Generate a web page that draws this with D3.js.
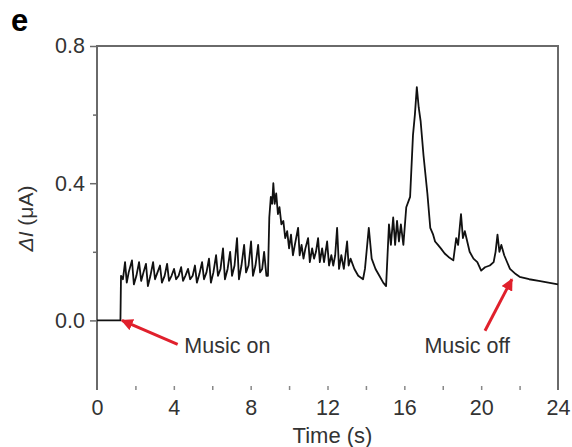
<!DOCTYPE html>
<html>
<head>
<meta charset="utf-8">
<script src="https://cdn.jsdelivr.net/npm/d3@7"></script>
<style>
  html, body { margin: 0; padding: 0; background: #fff; }
  svg { display: block; font-family: "Liberation Sans", Arial, sans-serif; }
</style>
</head>
<body>
<svg id="chart" width="572" height="447"></svg>
<script>
// ---- data ----
const timeS = [0,1.22,1.25,1.35,1.46,1.55,1.65,1.82,1.92,2.05,2.19,2.3,2.42,2.55,2.65,2.78,2.92,3.02,3.15,3.28,3.38,3.52,3.65,3.75,3.88,4.01,4.12,4.25,4.38,4.48,4.6,4.74,4.85,4.98,5.10,5.2,5.33,5.47,5.57,5.7,5.83,5.93,6.06,6.20,6.3,6.43,6.56,6.66,6.8,6.93,7.03,7.16,7.29,7.39,7.52,7.66,7.76,7.89,8.02,8.12,8.25,8.39,8.49,8.6,8.70,8.82,8.9,8.97,9.05,9.12,9.18,9.25,9.33,9.42,9.5,9.6,9.7,9.8,9.9,10.0,10.1,10.2,10.3,10.47,10.55,10.65,10.75,10.85,10.99,11.08,11.2,11.3,11.4,11.51,11.6,11.72,11.82,11.98,12.08,12.2,12.3,12.4,12.5,12.6,12.72,12.85,13.02,13.1,13.2,13.4,13.6,13.85,13.95,14.15,14.3,14.5,14.7,14.9,15.05,15.2,15.3,15.42,15.52,15.62,15.72,15.82,15.95,16.1,16.3,16.45,16.55,16.65,16.75,16.85,17.0,17.2,17.35,17.5,17.6,17.75,17.9,18.1,18.3,18.55,18.7,18.8,18.95,19.05,19.15,19.4,19.6,19.8,20.0,20.2,20.45,20.65,20.75,20.85,20.95,21.05,21.2,21.5,21.8,22.0,22.5,23.0,23.5,24.0];
const currentUA = [0,0,0.13,0.12,0.17,0.11,0.14,0.175,0.105,0.13,0.17,0.115,0.14,0.165,0.10,0.13,0.17,0.12,0.14,0.16,0.11,0.13,0.165,0.115,0.13,0.15,0.12,0.13,0.155,0.115,0.13,0.15,0.12,0.13,0.16,0.11,0.135,0.17,0.12,0.14,0.18,0.11,0.14,0.19,0.13,0.15,0.21,0.12,0.15,0.20,0.13,0.16,0.24,0.12,0.16,0.22,0.14,0.16,0.23,0.13,0.16,0.22,0.14,0.15,0.20,0.13,0.13,0.30,0.36,0.34,0.40,0.34,0.37,0.31,0.33,0.28,0.29,0.24,0.26,0.21,0.25,0.19,0.22,0.27,0.19,0.22,0.18,0.21,0.24,0.17,0.21,0.18,0.20,0.24,0.17,0.21,0.17,0.23,0.16,0.19,0.16,0.19,0.27,0.15,0.19,0.15,0.23,0.16,0.18,0.15,0.13,0.12,0.15,0.27,0.18,0.15,0.13,0.11,0.10,0.28,0.22,0.30,0.22,0.29,0.23,0.28,0.22,0.33,0.36,0.54,0.60,0.68,0.62,0.58,0.48,0.37,0.27,0.25,0.23,0.22,0.21,0.195,0.185,0.175,0.24,0.22,0.31,0.24,0.26,0.20,0.18,0.17,0.145,0.155,0.16,0.17,0.20,0.25,0.20,0.22,0.19,0.15,0.135,0.127,0.12,0.115,0.11,0.105];
const xTickLabels = [0, 4, 8, 12, 16, 20, 24];
const xMinorTicks = [2, 6, 10, 14, 18, 22];
const yTickLabels = [0.0, 0.4, 0.8];
const yMinorTicks = [0.2, 0.6];
const annotations = [
  { text: "Music on", tx: 1.3, tv: 0.0 },
  { text: "Music off", tx: 21.6, tv: 0.12 }
];

// ---- layout ----
const svg = d3.select("#chart");
const L = 97, R = 558, T = 46, B = 389;
const x = d3.scaleLinear().domain([0, 24]).range([L, R]);
const y = d3.scaleLinear().domain([-0.2, 0.8]).range([B, T]);
const axisColor = "#6a6a6a";
const textColor = "#333";
const fs = 21.5;

// frame: left, top, right (no bottom line)
svg.append("path")
  .attr("d", `M${L},${B + 1}V${T}H${R}V${B + 1}`)
  .attr("fill", "none").attr("stroke", axisColor).attr("stroke-width", 2);

// y axis with major labels
const yAxis = d3.axisLeft(y).tickValues(yTickLabels).tickFormat(d3.format(".1f"))
  .tickSize(7).tickPadding(5);
const gy = svg.append("g").attr("transform", `translate(${L},0)`).call(yAxis);
gy.select(".domain").remove();
gy.selectAll(".tick line").attr("stroke", axisColor).attr("stroke-width", 1.5);
gy.selectAll(".tick text").attr("font-size", fs).attr("fill", textColor)
  .attr("font-family", "Liberation Sans, Arial, sans-serif");
const gym = svg.append("g").attr("transform", `translate(${L},0)`)
  .call(d3.axisLeft(y).tickValues(yMinorTicks).tickSize(4).tickFormat(""));
gym.select(".domain").remove();
gym.selectAll(".tick line").attr("stroke", axisColor).attr("stroke-width", 1.5);

// x axis: small inward ticks every 2 s, labels every 4 s
const gx = svg.append("g").attr("transform", `translate(0,${B + 1})`)
  .call(d3.axisBottom(x).tickValues(xTickLabels).tickSize(0).tickPadding(10).tickFormat(d3.format("d")));
gx.select(".domain").remove();
gx.selectAll(".tick text").attr("font-size", fs).attr("fill", textColor)
  .attr("font-family", "Liberation Sans, Arial, sans-serif");
const gxm = svg.append("g").attr("transform", `translate(0,${B + 1})`)
  .call(d3.axisTop(x).tickValues(xMinorTicks.concat(xTickLabels.slice(1, -1))).tickSize(4).tickFormat(""));
gxm.select(".domain").remove();
gxm.selectAll(".tick line").attr("stroke", "#888").attr("stroke-width", 1.5);

// trace
const pts = timeS.map((t, i) => [t, currentUA[i]]);
const line = d3.line().x(d => x(d[0])).y(d => y(d[1]));
svg.append("path").datum(pts)
  .attr("d", line)
  .attr("fill", "none").attr("stroke", "#111").attr("stroke-width", 1.8)
  .attr("stroke-linejoin", "round");

// axis titles
svg.append("text").attr("x", x(12) + 5).attr("y", 443)
  .attr("text-anchor", "middle").attr("font-size", 22).attr("fill", textColor)
  .text("Time (s)");
const yl = svg.append("text")
  .attr("transform", `translate(33,${(y(0.45) + y(0.15)) / 2 + 1}) rotate(-90)`)
  .attr("text-anchor", "middle").attr("font-size", 21).attr("fill", textColor);
yl.append("tspan").attr("font-style", "italic").text("ΔI");
yl.append("tspan").text(" (μA)");

// panel letter
svg.append("text").attr("x", 11).attr("y", 31)
  .attr("font-size", 31).attr("font-weight", "bold").attr("fill", "#000").text("e");

// annotations
const defs = svg.append("defs");
defs.append("marker").attr("id", "arrow").attr("viewBox", "0 0 10 10")
  .attr("refX", 9).attr("refY", 5).attr("markerWidth", 4).attr("markerHeight", 4)
  .attr("orient", "auto-start-reverse")
  .append("path").attr("d", "M0,0L10,5L0,10z").attr("fill", "#e0202c");

const red = "#e0202c";
// Music on
svg.append("line")
  .attr("x1", x(4.2)).attr("y1", y(-0.07))
  .attr("x2", x(annotations[0].tx)).attr("y2", y(annotations[0].tv))
  .attr("stroke", red).attr("stroke-width", 3).attr("marker-end", "url(#arrow)");
svg.append("text").attr("x", x(4.6) - 1).attr("y", 353)
  .attr("font-size", fs).attr("fill", textColor).text(annotations[0].text);
// Music off
svg.append("line")
  .attr("x1", x(20.2)).attr("y1", y(-0.03))
  .attr("x2", x(annotations[1].tx)).attr("y2", y(annotations[1].tv))
  .attr("stroke", red).attr("stroke-width", 3).attr("marker-end", "url(#arrow)");
svg.append("text").attr("x", x(17.1) - 1).attr("y", 353)
  .attr("font-size", fs).attr("fill", textColor).text(annotations[1].text);
</script>
</body>
</html>
